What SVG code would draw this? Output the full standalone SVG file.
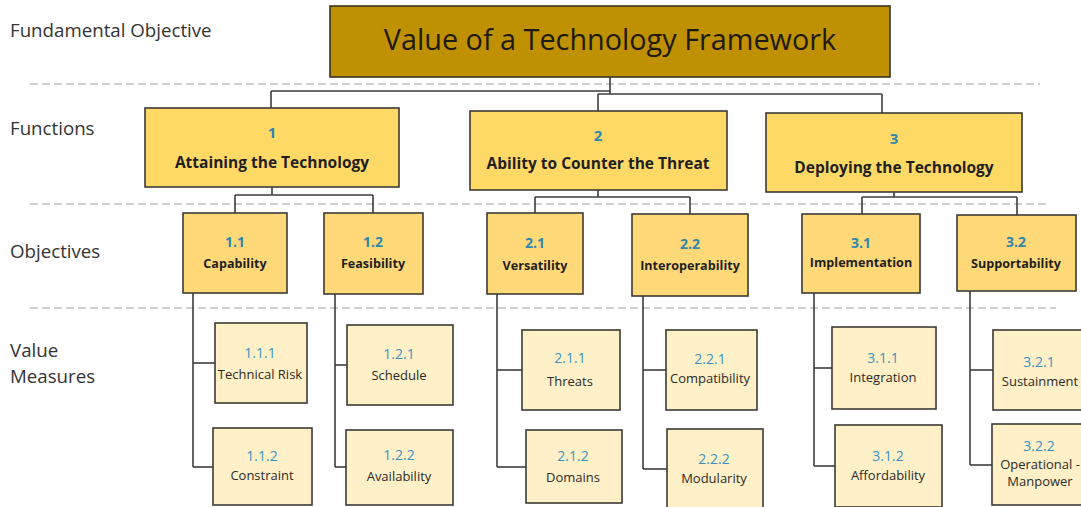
<svg xmlns="http://www.w3.org/2000/svg" width="1081" height="507" viewBox="0 0 1081 507">
<style>
.bg{fill:#ffffff}
.dash{stroke:#cfcfcf;stroke-width:2.2;stroke-dasharray:8 4;fill:none}
.lbl{font-family:"Open Sans","Liberation Sans",sans-serif;font-size:18.7px;fill:#333333}
.top{fill:#bf9000;stroke:#3a3226;stroke-width:1.6}
.toptxt{font-family:"Open Sans","Liberation Sans",sans-serif;font-size:28.8px;fill:#1e1a10;text-anchor:middle}
.fn{fill:#ffd966;stroke:#3c3a35;stroke-width:1.6}
.ob{fill:#ffd978;stroke:#3c3a35;stroke-width:1.6}
.vm{fill:#fff0c8;stroke:#3c3a35;stroke-width:1.6}
.num{font-family:"Open Sans","Liberation Sans",sans-serif;font-weight:bold;fill:#2e86ad;text-anchor:middle;dominant-baseline:central}
.fnum{font-size:15px}
.onum{font-size:14px}
.vnum{font-family:"Open Sans","Liberation Sans",sans-serif;font-size:14px;fill:#3a92c0;text-anchor:middle;dominant-baseline:central}
.ft{font-family:"Open Sans","Liberation Sans",sans-serif;font-weight:bold;font-size:15.5px;fill:#1f1f1f;text-anchor:middle;dominant-baseline:central}
.ot{font-family:"Open Sans","Liberation Sans",sans-serif;font-weight:bold;font-size:12.6px;fill:#1f1f1f;text-anchor:middle;dominant-baseline:central}
.vt{font-family:"Open Sans","Liberation Sans",sans-serif;font-size:13px;fill:#2a2a2a;text-anchor:middle;dominant-baseline:central}
.conn line{stroke:#3c3c3c;stroke-width:1.6}
</style>
<rect class="bg" x="0" y="0" width="1081" height="507"/>
<g id="levels">
<line class="dash" x1="30" y1="84" x2="1040" y2="84"/>
<line class="dash" x1="30" y1="204" x2="1050" y2="204"/>
<line class="dash" x1="30" y1="308" x2="1056" y2="308"/>
<text class="lbl" x="10" y="37">Fundamental Objective</text>
<text class="lbl" x="10" y="135">Functions</text>
<text class="lbl" x="10" y="258">Objectives</text>
<text class="lbl" x="10" y="357">Value</text>
<text class="lbl" x="10" y="383">Measures</text>
</g>
<g id="connectors" class="conn">
<line x1="610" y1="77" x2="610" y2="94"/>
<line x1="271" y1="91" x2="610" y2="91"/>
<line x1="271" y1="91" x2="271" y2="108"/>
<line x1="598" y1="94" x2="882" y2="94"/>
<line x1="598" y1="94" x2="598" y2="111"/>
<line x1="882" y1="94" x2="882" y2="113"/>
<line x1="272" y1="187" x2="272" y2="195"/>
<line x1="235" y1="195" x2="373" y2="195"/>
<line x1="235" y1="195" x2="235" y2="213"/>
<line x1="373" y1="195" x2="373" y2="213"/>
<line x1="598" y1="190" x2="598" y2="197"/>
<line x1="535" y1="197" x2="690" y2="197"/>
<line x1="535" y1="197" x2="535" y2="213"/>
<line x1="690" y1="197" x2="690" y2="214"/>
<line x1="894" y1="192" x2="894" y2="197"/>
<line x1="862" y1="197" x2="1017" y2="197"/>
<line x1="862" y1="197" x2="862" y2="214"/>
<line x1="1017" y1="197" x2="1017" y2="215"/>
<line x1="193" y1="293" x2="193" y2="467"/>
<line x1="193" y1="363" x2="215" y2="363"/>
<line x1="193" y1="467" x2="213" y2="467"/>
<line x1="335" y1="294" x2="335" y2="467"/>
<line x1="335" y1="365" x2="347" y2="365"/>
<line x1="335" y1="467" x2="346" y2="467"/>
<line x1="497" y1="294" x2="497" y2="467"/>
<line x1="497" y1="370" x2="522" y2="370"/>
<line x1="497" y1="467" x2="526" y2="467"/>
<line x1="643" y1="296" x2="643" y2="469"/>
<line x1="643" y1="370" x2="666" y2="370"/>
<line x1="643" y1="469" x2="667" y2="469"/>
<line x1="814" y1="293" x2="814" y2="466"/>
<line x1="814" y1="368" x2="832" y2="368"/>
<line x1="814" y1="466" x2="835" y2="466"/>
<line x1="970" y1="291" x2="970" y2="465"/>
<line x1="970" y1="370" x2="993" y2="370"/>
<line x1="970" y1="465" x2="992" y2="465"/>
</g>
<g id="n0"><rect class="top" x="330" y="6" width="560" height="71"/><text class="toptxt" x="610" y="50">Value of a Technology Framework</text></g>
<g id="n1"><rect class="fn" x="145" y="108" width="254" height="79"/><text class="num fnum" x="272" y="132">1</text><text class="ft" x="272" y="162">Attaining the Technology</text></g>
<g id="n2"><rect class="fn" x="470" y="111" width="257" height="79"/><text class="num fnum" x="598" y="135">2</text><text class="ft" x="598" y="163">Ability to Counter the Threat</text></g>
<g id="n3"><rect class="fn" x="766" y="113" width="256" height="79"/><text class="num fnum" x="894" y="138">3</text><text class="ft" x="894" y="167">Deploying the Technology</text></g>
<g id="n1_1"><rect class="ob" x="183" y="213" width="104" height="80"/><text class="num onum" x="235" y="241">1.1</text><text class="ot" x="235" y="263">Capability</text></g>
<g id="n1_2"><rect class="ob" x="324" y="213" width="99" height="81"/><text class="num onum" x="373" y="241">1.2</text><text class="ot" x="373" y="263">Feasibility</text></g>
<g id="n2_1"><rect class="ob" x="487" y="213" width="96" height="81"/><text class="num onum" x="535" y="242">2.1</text><text class="ot" x="535" y="265">Versatility</text></g>
<g id="n2_2"><rect class="ob" x="632" y="214" width="116" height="82"/><text class="num onum" x="690" y="243">2.2</text><text class="ot" x="690" y="265">Interoperability</text></g>
<g id="n3_1"><rect class="ob" x="802" y="214" width="118" height="79"/><text class="num onum" x="861" y="242">3.1</text><text class="ot" x="861" y="262">Implementation</text></g>
<g id="n3_2"><rect class="ob" x="957" y="215" width="119" height="76"/><text class="num onum" x="1016" y="241">3.2</text><text class="ot" x="1016" y="263">Supportability</text></g>
<g id="n1_1_1"><rect class="vm" x="215" y="323" width="92" height="80"/><text class="vnum" x="260" y="352">1.1.1</text><text class="vt" x="260" y="374">Technical Risk</text></g>
<g id="n1_1_2"><rect class="vm" x="213" y="428" width="99" height="77"/><text class="vnum" x="262" y="455">1.1.2</text><text class="vt" x="262" y="475">Constraint</text></g>
<g id="n1_2_1"><rect class="vm" x="347" y="325" width="106" height="80"/><text class="vnum" x="399" y="353">1.2.1</text><text class="vt" x="399" y="375">Schedule</text></g>
<g id="n1_2_2"><rect class="vm" x="346" y="430" width="107" height="75"/><text class="vnum" x="399" y="454">1.2.2</text><text class="vt" x="399" y="476">Availability</text></g>
<g id="n2_1_1"><rect class="vm" x="522" y="330" width="98" height="80"/><text class="vnum" x="570" y="357">2.1.1</text><text class="vt" x="570" y="381">Threats</text></g>
<g id="n2_1_2"><rect class="vm" x="526" y="430" width="96" height="73"/><text class="vnum" x="573" y="455">2.1.2</text><text class="vt" x="573" y="477">Domains</text></g>
<g id="n2_2_1"><rect class="vm" x="666" y="330" width="91" height="80"/><text class="vnum" x="710" y="358">2.2.1</text><text class="vt" x="710" y="378">Compatibility</text></g>
<g id="n2_2_2"><rect class="vm" x="667" y="429" width="96" height="82"/><text class="vnum" x="714" y="458">2.2.2</text><text class="vt" x="714" y="478">Modularity</text></g>
<g id="n3_1_1"><rect class="vm" x="832" y="327" width="104" height="82"/><text class="vnum" x="883" y="357">3.1.1</text><text class="vt" x="883" y="377">Integration</text></g>
<g id="n3_1_2"><rect class="vm" x="835" y="425" width="107" height="82"/><text class="vnum" x="888" y="455">3.1.2</text><text class="vt" x="888" y="475">Affordability</text></g>
<g id="n3_2_1"><rect class="vm" x="993" y="330" width="100" height="80"/><text class="vnum" x="1039" y="361">3.2.1</text><text class="vt" x="1040" y="381">Sustainment</text></g>
<g id="n3_2_2"><rect class="vm" x="992" y="424" width="100" height="81"/><text class="vnum" x="1039" y="445">3.2.2</text><text class="vt" x="1040" y="464">Operational -</text><text class="vt" x="1040" y="481">Manpower</text></g>
</svg>
